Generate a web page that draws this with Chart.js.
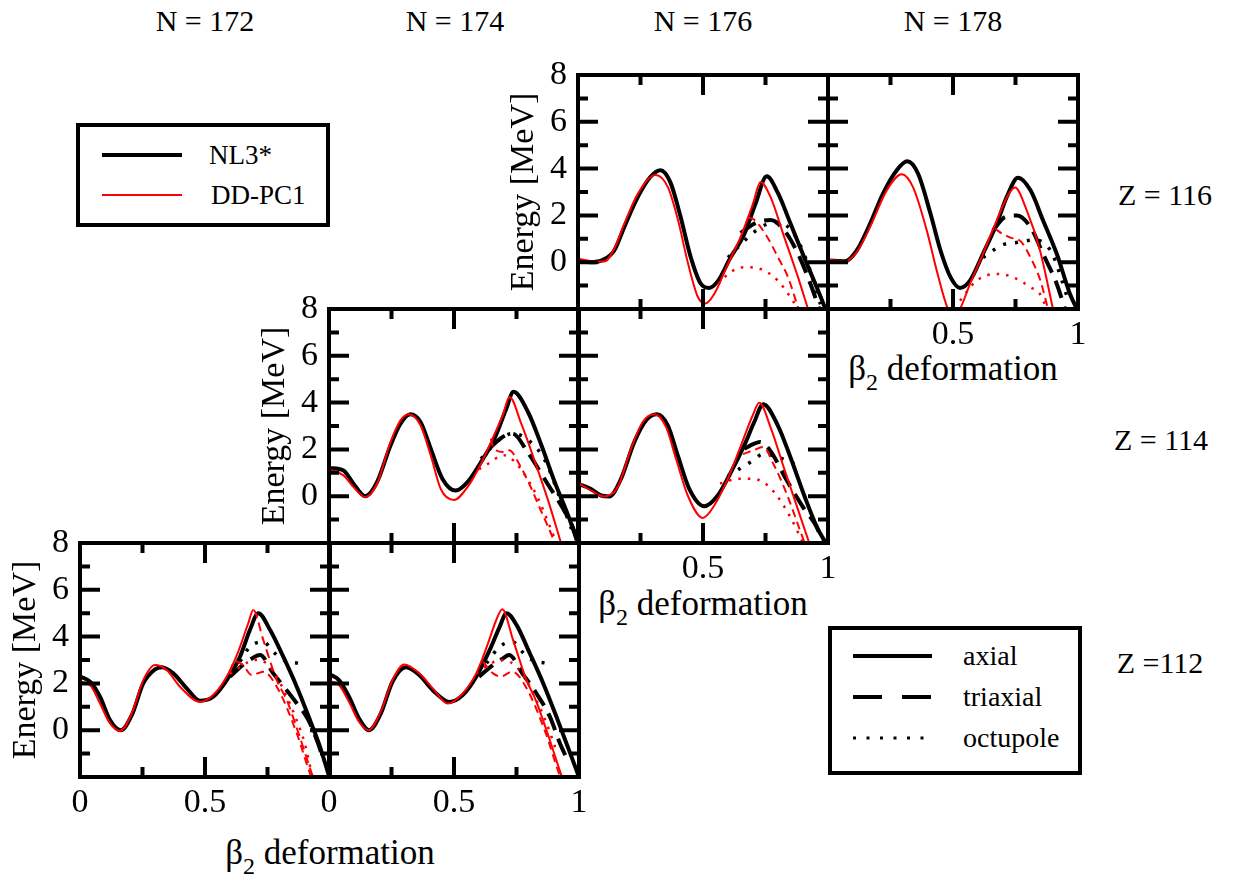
<!DOCTYPE html>
<html>
<head>
<meta charset="utf-8">
<script src="https://cdn.jsdelivr.net/npm/chart.js@4.4.0/dist/chart.umd.min.js"></script>
<style>
  body { margin: 0; background: #fff; }
  #page { position: relative; width: 1234px; height: 882px; overflow: hidden;
          font-family: "Liberation Serif", "Times New Roman", serif; color: #000; }
  #page canvas { position: absolute; }
  .lbl { position: absolute; font-size: 30px; white-space: nowrap; line-height: 1;
         transform: translate(-50%, -50%); }
  .btitle { font-size: 35px; }
  .btitle sub { font-size: 24px; vertical-align: baseline; position: relative; top: 10px; }
  #legends { position: absolute; left: 0; top: 0; }
</style>
</head>
<body>
<div id="page">
  <div class="lbl" style="left:205px;top:21px">N = 172</div>
  <div class="lbl" style="left:455px;top:21px">N = 174</div>
  <div class="lbl" style="left:703px;top:21px">N = 176</div>
  <div class="lbl" style="left:953px;top:21px">N = 178</div>

  <div class="lbl" style="left:1165px;top:195px">Z = 116</div>
  <div class="lbl" style="left:1161px;top:440px">Z = 114</div>
  <div class="lbl" style="left:1160px;top:663px">Z =112</div>

  <div class="lbl btitle" style="left:953px;top:368px">β<sub>2</sub> deformation</div>
  <div class="lbl btitle" style="left:703px;top:603px">β<sub>2</sub> deformation</div>
  <div class="lbl btitle" style="left:330px;top:852px">β<sub>2</sub> deformation</div>

  <svg id="legends" width="1234" height="882" font-family="Liberation Serif, Times New Roman, serif">
    <rect x="78" y="125" width="250" height="100" fill="#fff" stroke="#000" stroke-width="4"/>
    <line x1="102" y1="155" x2="182" y2="155" stroke="#000" stroke-width="4"/>
    <line x1="102" y1="195" x2="182" y2="195" stroke="#ff0000" stroke-width="2"/>
    <text x="209" y="164" font-size="27">NL3*</text>
    <text x="211" y="204" font-size="27">DD-PC1</text>

    <rect x="830" y="628" width="250" height="145" fill="#fff" stroke="#000" stroke-width="4"/>
    <line x1="853" y1="656" x2="932" y2="656" stroke="#000" stroke-width="4"/>
    <line x1="853" y1="697" x2="932" y2="697" stroke="#000" stroke-width="4" stroke-dasharray="29 20"/>
    <line x1="853" y1="738" x2="932" y2="738" stroke="#000" stroke-width="3" stroke-dasharray="3 10.5"/>
    <text x="963" y="665" font-size="28">axial</text>
    <text x="963" y="706" font-size="28">triaxial</text>
    <text x="963" y="747" font-size="28">octupole</text>
  </svg>
</div>

<script>
// --- tick values / labels ---
const xMajorTicks = [0.5];
const xMinorTicks = [0.25, 0.75];
const yMajorTicks = [0, 2, 4, 6];
const yMinorTicks = [-1, 1, 3, 5, 7];
const yTickLabels = [0, 2, 4, 6, 8];

// --- data: [beta2, energy MeV] ---
// Z = 116, N = 176
const z116n176Nl3Ax = [[0,0.05],[0.05,0.0],[0.1,0.1],[0.145,0.5],[0.185,1.5],[0.24,2.8],[0.29,3.65],[0.33,3.93],[0.37,3.4],[0.41,1.95],[0.45,0.25],[0.49,-0.9],[0.525,-1.1],[0.56,-0.8],[0.61,0.2],[0.665,1.2],[0.71,2.5],[0.755,3.67],[0.8,2.95],[0.85,1.65],[0.905,0.2],[0.96,-1.2],[0.99,-2.0]];
const z116n176DdAx = [[0,0.15],[0.05,0.05],[0.105,0.03],[0.145,0.57],[0.185,1.64],[0.24,2.93],[0.31,3.73],[0.36,3.2],[0.4,1.8],[0.44,-0.05],[0.48,-1.5],[0.51,-1.76],[0.545,-1.36],[0.6,-0.07],[0.65,1.07],[0.7,2.5],[0.73,3.43],[0.77,2.79],[0.825,1.07],[0.88,-0.64],[0.92,-2.0]];
const z116n176Nl3Tri = [[0.65,1.25],[0.69,1.55],[0.72,1.72],[0.77,1.8],[0.825,1.36],[0.88,0.36],[0.93,-0.93],[0.965,-2.0]];
const z116n176DdTri = [[0.68,1.9],[0.7,1.85],[0.75,1.2],[0.8,0.21],[0.84,-0.64],[0.88,-1.93]];
const z116n176Nl3Oct = [[0.6,0.2],[0.65,0.75],[0.7,1.25],[0.75,1.6],[0.8,1.7],[0.85,1.4],[0.89,0.7],[0.93,-0.4],[0.97,-1.8]];
const z116n176DdOct = [[0.56,-0.93],[0.61,-0.43],[0.665,-0.21],[0.73,-0.29],[0.8,-0.79],[0.85,-1.5],[0.88,-2.0]];

// Z = 116, N = 178
const z116n178Nl3Ax = [[0,0.07],[0.068,0.04],[0.115,0.5],[0.168,1.64],[0.22,2.93],[0.275,3.93],[0.317,4.31],[0.36,3.79],[0.41,2.07],[0.45,0.5],[0.49,-0.64],[0.528,-1.1],[0.568,-0.79],[0.62,0.36],[0.675,1.64],[0.715,2.79],[0.76,3.61],[0.81,3.07],[0.86,1.79],[0.915,0.36],[0.968,-1.36],[0.995,-2.0]];
const z116n178DdAx = [[0,0.1],[0.068,0.04],[0.115,0.43],[0.168,1.5],[0.235,3.07],[0.295,3.76],[0.34,3.21],[0.395,1.36],[0.435,-0.36],[0.48,-2.0],[0.505,-2.3],[0.528,-2.0],[0.568,-0.93],[0.62,0.36],[0.675,1.79],[0.72,2.86],[0.748,3.19],[0.795,2.21],[0.848,0.5],[0.9,-2.0]];
const z116n178Nl3Tri = [[0.66,1.36],[0.708,1.93],[0.755,2.0],[0.81,1.5],[0.86,0.36],[0.915,-0.93],[0.948,-2.0]];
const z116n178DdTri = [[0.668,1.43],[0.7,1.2],[0.73,1.05],[0.77,0.9],[0.81,0.2],[0.85,-0.8],[0.88,-2.0]];
const z116n178Nl3Oct = [[0.62,0.2],[0.66,0.5],[0.7,0.75],[0.76,0.85],[0.82,0.95],[0.86,0.85],[0.9,0.3],[0.93,-0.6],[0.96,-1.6]];
const z116n178DdOct = [[0.528,-1.64],[0.595,-0.79],[0.675,-0.5],[0.74,-0.64],[0.81,-1.07],[0.848,-1.36],[0.875,-2.0]];

// Z = 114, N = 174
const z114n174Nl3Ax = [[0,1.21],[0.058,1.1],[0.098,0.53],[0.145,0.0],[0.192,0.6],[0.246,2.17],[0.286,3.1],[0.326,3.5],[0.366,3.17],[0.407,2.03],[0.454,0.74],[0.507,0.24],[0.554,0.6],[0.608,1.46],[0.662,2.46],[0.709,3.74],[0.738,4.46],[0.796,3.6],[0.85,2.17],[0.903,0.6],[0.957,-0.83],[0.995,-2.0]];
const z114n174DdAx = [[0,1.14],[0.058,0.89],[0.098,0.39],[0.145,-0.04],[0.192,0.53],[0.246,2.31],[0.286,3.24],[0.319,3.5],[0.366,3.03],[0.407,1.74],[0.447,0.31],[0.5,-0.16],[0.554,0.39],[0.608,1.39],[0.648,2.31],[0.695,3.46],[0.722,4.24],[0.769,3.1],[0.823,1.5],[0.877,-0.2],[0.928,-2.0]];
const z114n174Nl3Tri = [[0.647,2.1],[0.69,2.5],[0.734,2.68],[0.794,1.89],[0.874,0.53],[0.94,-0.6],[0.98,-1.46],[0.995,-2.0]];
const z114n174DdTri = [[0.647,2.46],[0.66,2.03],[0.7,1.89],[0.72,1.96],[0.767,1.25],[0.807,0.39],[0.847,-0.6],[0.894,-1.75],[0.91,-2.2]];
const z114n174Nl3Oct = [[0.608,1.6],[0.687,2.46],[0.734,2.68],[0.827,2.1],[0.87,1.4],[0.93,-0.26],[0.97,-1.4]];
const z114n174DdOct = [[0.6,1.15],[0.627,1.32],[0.7,1.75],[0.74,1.5],[0.78,0.96],[0.834,-0.04],[0.88,-1.2],[0.91,-2.0]];

// Z = 114, N = 176
const z114n176Nl3Ax = [[0,0.53],[0.052,0.31],[0.092,0.03],[0.125,-0.01],[0.172,0.74],[0.225,2.31],[0.272,3.24],[0.316,3.5],[0.359,3.03],[0.399,1.74],[0.445,0.31],[0.505,-0.43],[0.559,0.03],[0.612,1.03],[0.665,2.17],[0.705,3.17],[0.741,3.93],[0.799,3.03],[0.852,1.6],[0.905,0.03],[0.959,-1.4],[0.992,-2.0]];
const z114n176DdAx = [[0,0.57],[0.052,0.24],[0.105,-0.01],[0.159,0.39],[0.212,2.03],[0.259,3.17],[0.305,3.5],[0.352,2.96],[0.392,1.6],[0.439,0.03],[0.499,-0.93],[0.545,-0.4],[0.599,0.74],[0.652,2.17],[0.699,3.46],[0.725,3.99],[0.772,2.89],[0.825,1.17],[0.879,-0.54],[0.925,-2.0]];
const z114n176Nl3Tri = [[0.665,2.03],[0.705,2.25],[0.728,2.32],[0.768,1.96],[0.835,0.68],[0.9,-0.47],[0.955,-1.32],[0.98,-2.0]];
const z114n176DdTri = [[0.66,1.8],[0.701,1.96],[0.741,2.1],[0.781,1.39],[0.835,0.1],[0.888,-1.46],[0.91,-2.1]];
const z114n176Nl3Oct = [[0.6,0.85],[0.648,1.18],[0.701,1.53],[0.74,1.8],[0.79,1.7],[0.848,1.46],[0.895,1.2]];
const z114n176DdOct = [[0.568,0.54],[0.648,0.75],[0.72,0.7],[0.76,0.45],[0.795,0.03],[0.85,-0.9],[0.9,-2.0]];

// Z = 112, N = 172
const z112n172Nl3Ax = [[0,2.29],[0.04,2.07],[0.08,1.43],[0.12,0.43],[0.163,0.0],[0.207,0.64],[0.253,2.0],[0.3,2.6],[0.327,2.69],[0.373,2.43],[0.427,1.79],[0.48,1.26],[0.533,1.43],[0.587,2.14],[0.64,3.14],[0.68,4.29],[0.713,5.0],[0.76,4.29],[0.813,3.14],[0.867,1.86],[0.92,0.43],[0.96,-0.71],[1.0,-2.1]];
const z112n172DdAx = [[0,2.07],[0.04,1.93],[0.08,1.14],[0.12,0.29],[0.16,-0.03],[0.207,0.71],[0.253,2.14],[0.3,2.79],[0.347,2.57],[0.4,1.86],[0.48,1.21],[0.533,1.5],[0.587,2.29],[0.633,3.36],[0.673,4.57],[0.693,5.14],[0.733,3.86],[0.787,2.14],[0.827,1.29],[0.87,0.0],[0.927,-1.85],[0.935,-2.1]];
const z112n172Nl3Tri = [[0.6,2.29],[0.653,2.8],[0.693,3.1],[0.72,3.21],[0.773,2.43],[0.867,1.15],[0.913,0.44],[0.95,-0.5],[0.975,-1.3]];
const z112n172DdTri = [[0.6,2.5],[0.62,2.95],[0.65,2.8],[0.687,2.36],[0.733,2.5],[0.787,1.86],[0.867,-0.13],[0.92,-1.85],[0.93,-2.1]];
const z112n172Nl3Oct = [[0.64,2.93],[0.68,3.57],[0.733,3.78],[0.773,3.35],[0.813,3.0],[0.873,2.86]];
const z112n172DdOct = [[0.6,2.4],[0.64,2.7],[0.67,2.9],[0.7,3.0],[0.74,2.9],[0.78,2.4],[0.82,1.6],[0.86,0.6],[0.9,-0.6],[0.93,-2.0]];

// Z = 112, N = 174
const z112n174Nl3Ax = [[0,2.4],[0.04,2.14],[0.08,1.43],[0.12,0.5],[0.16,0.0],[0.207,0.71],[0.254,2.07],[0.308,2.69],[0.361,2.36],[0.415,1.71],[0.482,1.21],[0.535,1.5],[0.589,2.29],[0.643,3.43],[0.683,4.43],[0.71,5.0],[0.75,4.5],[0.803,3.29],[0.857,2.0],[0.91,0.57],[0.95,-0.57],[0.99,-1.71],[1.0,-2.0]];
const z112n174DdAx = [[0,2.11],[0.04,1.93],[0.08,1.21],[0.12,0.36],[0.158,0.0],[0.207,0.79],[0.254,2.14],[0.301,2.81],[0.361,2.43],[0.415,1.79],[0.475,1.14],[0.535,1.57],[0.589,2.43],[0.636,3.71],[0.669,4.71],[0.693,5.17],[0.736,3.86],[0.79,2.14],[0.827,1.29],[0.87,0.0],[0.927,-1.85],[0.935,-2.1]];
const z112n174Nl3Tri = [[0.6,2.29],[0.656,2.79],[0.696,3.07],[0.72,3.21],[0.773,2.43],[0.83,1.57],[0.884,0.57],[0.924,-0.57],[0.96,-1.4]];
const z112n174DdTri = [[0.616,2.93],[0.656,2.43],[0.687,2.3],[0.733,2.5],[0.787,1.86],[0.867,-0.13],[0.92,-1.85],[0.93,-2.1]];
const z112n174Nl3Oct = [[0.63,2.86],[0.683,3.57],[0.733,3.78],[0.773,3.35],[0.813,3.0],[0.87,2.86]];
const z112n174DdOct = [[0.589,2.43],[0.656,2.9],[0.7,3.0],[0.74,2.8],[0.78,2.3],[0.82,1.5],[0.87,0.3],[0.91,-0.9]];

// --- layout of the staircase of panels ---
const colLeft = [80, 329, 578, 828];
const rowTop = [75, 309, 543];
const PW = 250, PH = 234;
const PAD = { left: 110, right: 20, top: 20, bottom: 100 };

const panels = [
  { col: 2, row: 0, ax: [z116n176Nl3Ax, z116n176DdAx], tri: [z116n176Nl3Tri, z116n176DdTri], oct: [z116n176Nl3Oct, z116n176DdOct], xLabels: [], yLabels: true },
  { col: 3, row: 0, ax: [z116n178Nl3Ax, z116n178DdAx], tri: [z116n178Nl3Tri, z116n178DdTri], oct: [z116n178Nl3Oct, z116n178DdOct], xLabels: [0.5, 1], yLabels: false },
  { col: 1, row: 1, ax: [z114n174Nl3Ax, z114n174DdAx], tri: [z114n174Nl3Tri, z114n174DdTri], oct: [z114n174Nl3Oct, z114n174DdOct], xLabels: [], yLabels: true },
  { col: 2, row: 1, ax: [z114n176Nl3Ax, z114n176DdAx], tri: [z114n176Nl3Tri, z114n176DdTri], oct: [z114n176Nl3Oct, z114n176DdOct], xLabels: [0.5, 1], yLabels: false },
  // in this panel the DD-PC1 axial curve is drawn dashed past its outer barrier
  { col: 0, row: 2, ax: [z112n172Nl3Ax, z112n172DdAx], tri: [z112n172Nl3Tri, z112n172DdTri], oct: [z112n172Nl3Oct, z112n172DdOct], xLabels: [0, 0.5], yLabels: true, ddAxDashFrom: 0.69 },
  { col: 1, row: 2, ax: [z112n174Nl3Ax, z112n174DdAx], tri: [z112n174Nl3Tri, z112n174DdTri], oct: [z112n174Nl3Oct, z112n174DdOct], xLabels: [0, 0.5, 1], yLabels: false }
];

const toXY = arr => arr.map(p => ({ x: p[0], y: p[1] }));
const FONT = '"Liberation Serif", "Times New Roman", serif';

// frame, inward ticks and tick labels, drawn on top of the curves
const framePlugin = {
  id: 'frame',
  afterDatasetsDraw(chart, args, opts) {
    const { ctx, chartArea: a } = chart;
    const x = chart.scales.x, y = chart.scales.y;
    ctx.save();
    ctx.strokeStyle = '#000';
    ctx.lineWidth = 4;
    ctx.setLineDash([]);
    ctx.beginPath();
    const xt = (v, len) => {
      const px = x.getPixelForValue(v);
      ctx.moveTo(px, a.bottom); ctx.lineTo(px, a.bottom - len);
      ctx.moveTo(px, a.top); ctx.lineTo(px, a.top + len);
    };
    const yt = (v, len) => {
      const py = y.getPixelForValue(v);
      ctx.moveTo(a.left, py); ctx.lineTo(a.left + len, py);
      ctx.moveTo(a.right, py); ctx.lineTo(a.right - len, py);
    };
    xMajorTicks.forEach(v => xt(v, 20));
    xMinorTicks.forEach(v => xt(v, 10));
    yMajorTicks.forEach(v => yt(v, 20));
    yMinorTicks.forEach(v => yt(v, 10));
    ctx.stroke();
    ctx.strokeRect(a.left, a.top, a.right - a.left, a.bottom - a.top);

    ctx.fillStyle = '#000';
    ctx.font = '34px ' + FONT;
    ctx.textAlign = 'center';
    ctx.textBaseline = 'alphabetic';
    opts.xLabels.forEach(v => ctx.fillText(String(v), x.getPixelForValue(v), a.bottom + 35));

    if (opts.yLabels) {
      ctx.textAlign = 'right';
      ctx.textBaseline = 'middle';
      yTickLabels.forEach(v => ctx.fillText(String(v), a.left - 11, y.getPixelForValue(v)));
      ctx.save();
      ctx.translate(a.left - 54, (a.top + a.bottom) / 2);
      ctx.rotate(-Math.PI / 2);
      ctx.textAlign = 'center';
      ctx.font = '34px ' + FONT;
      ctx.fillText('Energy [MeV]', 0, 0);
      ctx.restore();
    }
    ctx.restore();
  }
};

const page = document.getElementById('page');

panels.forEach(p => {
  const canvas = document.createElement('canvas');
  canvas.width = PW + PAD.left + PAD.right;
  canvas.height = PH + PAD.top + PAD.bottom;
  canvas.style.left = (colLeft[p.col] - PAD.left) + 'px';
  canvas.style.top = (rowTop[p.row] - PAD.top) + 'px';
  page.appendChild(canvas);

  const ddAx = { data: toXY(p.ax[1]), borderColor: '#ff0000', borderWidth: 2 };
  if (p.ddAxDashFrom) {
    ddAx.segment = { borderDash: c => (c.p0.parsed.x >= p.ddAxDashFrom ? [9, 5] : undefined) };
  }

  // first dataset is painted last, so red (DD-PC1) goes first to sit on top
  const datasets = [
    ddAx,
    { data: toXY(p.tri[1]), borderColor: '#ff0000', borderWidth: 2, borderDash: [8, 5] },
    { data: toXY(p.oct[1]), borderColor: '#ff0000', borderWidth: 2.5, borderDash: [2.5, 7] },
    { data: toXY(p.ax[0]), borderColor: '#000', borderWidth: 4 },
    { data: toXY(p.tri[0]), borderColor: '#000', borderWidth: 4, borderDash: [18, 9] },
    { data: toXY(p.oct[0]), borderColor: '#000', borderWidth: 3.5, borderDash: [3, 9] }
  ];

  new Chart(canvas, {
    type: 'line',
    data: { datasets },
    options: {
      responsive: false,
      animation: false,
      devicePixelRatio: 1,
      layout: { padding: PAD },
      elements: {
        point: { radius: 0 },
        line: { tension: 0.4, cubicInterpolationMode: 'monotone', fill: false }
      },
      plugins: {
        legend: { display: false },
        tooltip: { enabled: false },
        frame: { xLabels: p.xLabels, yLabels: p.yLabels }
      },
      scales: {
        x: { type: 'linear', min: 0, max: 1, display: false },
        y: { type: 'linear', min: -2, max: 8, display: false }
      }
    },
    plugins: [framePlugin]
  });
});
</script>
</body>
</html>
